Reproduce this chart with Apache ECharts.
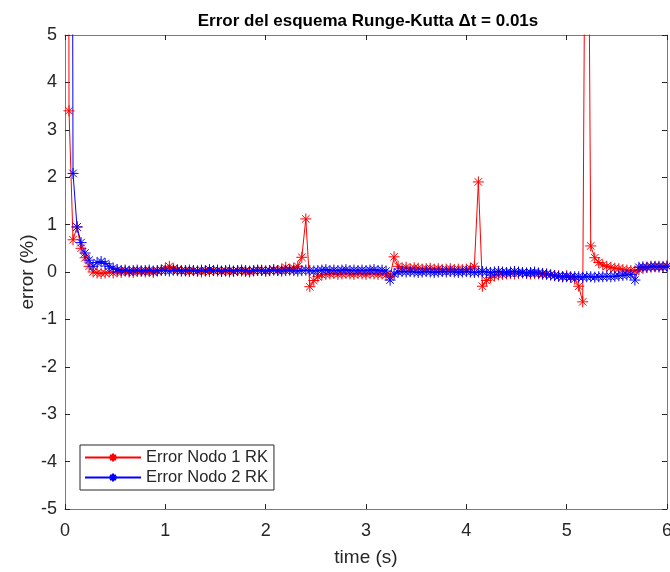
<!DOCTYPE html>
<html>
<head>
<meta charset="utf-8">
<script src="https://cdn.jsdelivr.net/npm/echarts@6/dist/echarts.min.js"></script>
<style>
html,body{margin:0;padding:0;background:#fff;}
#chart{width:670px;height:572px;}
</style>
</head>
<body>
<div id="chart"></div>
<script>
// time (s)
const timeS = [
  0,0.04,0.08,0.12,0.16,0.2,0.24,0.28,0.32,0.36,
  0.4,0.44,0.48,0.52,0.56,0.6,0.64,0.68,0.72,0.76,
  0.8,0.84,0.88,0.92,0.96,1,1.04,1.08,1.12,1.16,
  1.2,1.24,1.28,1.32,1.36,1.4,1.44,1.48,1.52,1.56,
  1.6,1.64,1.68,1.72,1.76,1.8,1.84,1.88,1.92,1.96,
  2,2.04,2.08,2.12,2.16,2.2,2.24,2.28,2.32,2.36,
  2.4,2.44,2.48,2.52,2.56,2.6,2.64,2.68,2.72,2.76,
  2.8,2.84,2.88,2.92,2.96,3,3.04,3.08,3.12,3.16,
  3.2,3.24,3.28,3.32,3.36,3.4,3.44,3.48,3.52,3.56,
  3.6,3.64,3.68,3.72,3.76,3.8,3.84,3.88,3.92,3.96,
  4,4.04,4.08,4.12,4.16,4.2,4.24,4.28,4.32,4.36,
  4.4,4.44,4.48,4.52,4.56,4.6,4.64,4.68,4.72,4.76,
  4.8,4.84,4.88,4.92,4.96,5,5.04,5.08,5.12,5.16,
  5.2,5.24,5.28,5.32,5.36,5.4,5.44,5.48,5.52,5.56,
  5.6,5.64,5.68,5.72,5.76,5.8,5.84,5.88,5.92,5.96,
  6
];
// Error Nodo 1 RK (%)
const errNodo1 = [
  60,3.4,0.68,0.95,0.5,0.3,0.12,0.0,-0.02,-0.03,
  -0.02,0.0,-0.02,0.01,-0.01,0.02,0.0,-0.01,0.01,0.02,
  0.0,0.01,-0.01,0.02,0.03,0.08,0.12,0.07,0.05,0.03,
  0.02,0.01,0.03,0.02,0.0,0.02,0.01,0.03,0.02,0.01,
  0.02,0.0,0.01,0.03,0.02,0.01,0.0,0.02,0.03,0.04,
  0.02,0.03,0.05,0.03,0.06,0.1,0.05,0.08,0.12,0.31,
  1.12,-0.31,-0.18,-0.1,-0.06,-0.05,-0.04,-0.03,-0.05,-0.04,
  -0.03,-0.04,-0.05,-0.03,-0.04,-0.05,-0.03,-0.04,-0.05,-0.04,
  -0.06,-0.1,0.32,0.12,0.08,0.1,0.07,0.09,0.08,0.06,
  0.07,0.08,0.06,0.07,0.05,0.06,0.07,0.05,0.06,0.05,
  0.06,0.08,0.12,1.9,-0.3,-0.18,-0.12,-0.08,-0.06,-0.05,
  -0.04,-0.03,-0.04,-0.03,-0.02,-0.03,-0.04,-0.03,-0.04,-0.05,
  -0.05,-0.06,-0.07,-0.08,-0.1,-0.08,-0.1,-0.15,-0.3,-0.63,
  14,0.55,0.3,0.2,0.15,0.12,0.1,0.08,0.07,0.05,
  0.04,0.03,0.02,0.05,0.08,0.1,0.1,0.12,0.1,0.12,
  0.13
];
// Error Nodo 2 RK (%)
const errNodo2 = [
  80,40,2.08,0.95,0.62,0.4,0.25,0.12,0.2,0.22,
  0.18,0.12,0.08,0.05,0.03,0.04,0.02,0.03,0.04,0.02,
  0.03,0.04,0.02,0.03,0.04,0.03,0.02,0.04,0.03,0.02,
  0.03,0.04,0.03,0.02,0.04,0.03,0.05,0.03,0.04,0.02,
  0.03,0.04,0.02,0.03,0.04,0.03,0.02,0.03,0.04,0.03,
  0.02,0.03,0.04,0.03,0.02,0.03,0.04,0.03,0.02,0.03,
  0.04,0.03,0.02,0.03,0.04,0.05,0.03,0.04,0.03,0.04,
  0.05,0.03,0.04,0.03,0.04,0.03,0.04,0.05,0.03,0.04,
  0.02,-0.17,-0.04,0.0,0.01,0.0,0.01,0.0,-0.01,0.0,
  0.01,0.0,-0.01,0.0,0.01,0.0,0.01,0.0,-0.01,0.0,
  0.01,0.0,-0.01,0.0,0.01,0.0,-0.01,0.0,0.01,0.0,
  -0.01,0.0,0.01,0.0,-0.01,-0.02,-0.01,0.0,-0.02,-0.03,
  -0.04,-0.06,-0.08,-0.09,-0.1,-0.1,-0.11,-0.1,-0.1,-0.11,
  -0.1,-0.1,-0.11,-0.1,-0.1,-0.09,-0.1,-0.09,-0.08,-0.07,
  -0.06,-0.05,-0.17,0.1,0.11,0.1,0.12,0.11,0.12,0.1,
  0.12
];
const seriesNames = ['Error Nodo 1 RK', 'Error Nodo 2 RK'];
const seriesColors = ['#ff0000', '#0000ff'];
const xTicks = [0,1,2,3,4,5,6];
const yTicks = [-5,-4,-3,-2,-1,0,1,2,3,4,5];

const FONT = '"Liberation Sans", Arial, Helvetica, sans-serif';
const AX = '#7a7a7a';
const TXT = '#262626';
const star = 'path://M5 0 L5 10 M0 5 L10 5 M1.6 1.6 L8.4 8.4 M1.6 8.4 L8.4 1.6';

function pairs(ys){ return timeS.map((t,i)=>[t, ys[i]]); }

const chart = echarts.init(document.getElementById('chart'), null, {renderer:'canvas'});
chart.setOption({
  animation: false,
  backgroundColor: '#fff',
  color: seriesColors,
  title: {
    text: 'Error del esquema Runge-Kutta \u0394t = 0.01s',
    left: 363, top: 8, textAlign: 'center',
    textStyle: {fontFamily: FONT, fontSize: 17, fontWeight: 'bold', color: '#000'}
  },
  grid: {left: 65, right: 3, top: 35, bottom: 63, containLabel: false, outerBoundsMode: 'none'},
  legend: {
    orient: 'vertical', left: 80, top: 445,
    backgroundColor: '#fff', borderColor: '#262626', borderWidth: 1,
    padding: [4, 6, 4, 4], itemGap: 3, itemWidth: 56, itemHeight: 10,
    textStyle: {fontFamily: FONT, fontSize: 16.5, color: TXT},
    data: seriesNames
  },
  xAxis: [{
    type: 'value', min: xTicks[0], max: xTicks[xTicks.length-1], interval: 1,
    name: 'time (s)', nameLocation: 'middle', nameGap: 39, nameMoveOverlap: false,
    nameTextStyle: {fontFamily: FONT, fontSize: 19, color: TXT},
    axisLine: {show: true, onZero: false, lineStyle: {color: AX, width: 1}},
    axisTick: {show: true, inside: true, length: 5, lineStyle: {color: TXT}},
    axisLabel: {fontFamily: FONT, fontSize: 18, color: TXT, margin: 13},
    splitLine: {show: false}
  }, {
    type: 'value', position: 'top', min: 0, max: 6, interval: 1,
    axisLine: {show: true, onZero: false, lineStyle: {color: AX, width: 1}},
    axisTick: {show: true, inside: true, length: 5, lineStyle: {color: TXT}},
    axisLabel: {show: false}, splitLine: {show: false}
  }],
  yAxis: [{
    type: 'value', min: yTicks[0], max: yTicks[yTicks.length-1], interval: 1,
    name: 'error (%)', nameLocation: 'middle', nameGap: 28, nameRotate: 90, nameMoveOverlap: false,
    nameTextStyle: {fontFamily: FONT, fontSize: 19, color: TXT},
    axisLine: {show: true, onZero: false, lineStyle: {color: AX, width: 1}},
    axisTick: {show: true, inside: true, length: 5, lineStyle: {color: TXT}},
    axisLabel: {fontFamily: FONT, fontSize: 18, color: TXT, margin: 8},
    splitLine: {show: false}
  }, {
    type: 'value', position: 'right', min: -5, max: 5, interval: 1,
    axisLine: {show: true, onZero: false, lineStyle: {color: AX, width: 1}},
    axisTick: {show: true, inside: true, length: 5, lineStyle: {color: TXT}},
    axisLabel: {show: false}, splitLine: {show: false}
  }],
  series: [errNodo1, errNodo2].map((ys, i) => ({
    name: seriesNames[i], type: 'line', data: pairs(ys),
    color: seriesColors[i],
    xAxisIndex: 0, yAxisIndex: 0, clip: true,
    showSymbol: true, showAllSymbol: true, symbol: star, symbolSize: 11,
    lineStyle: {color: seriesColors[i], width: 1},
    itemStyle: {color: seriesColors[i], borderColor: seriesColors[i], borderWidth: 1},
    emphasis: {disabled: true}
  }))
});
</script>
</body>
</html>
